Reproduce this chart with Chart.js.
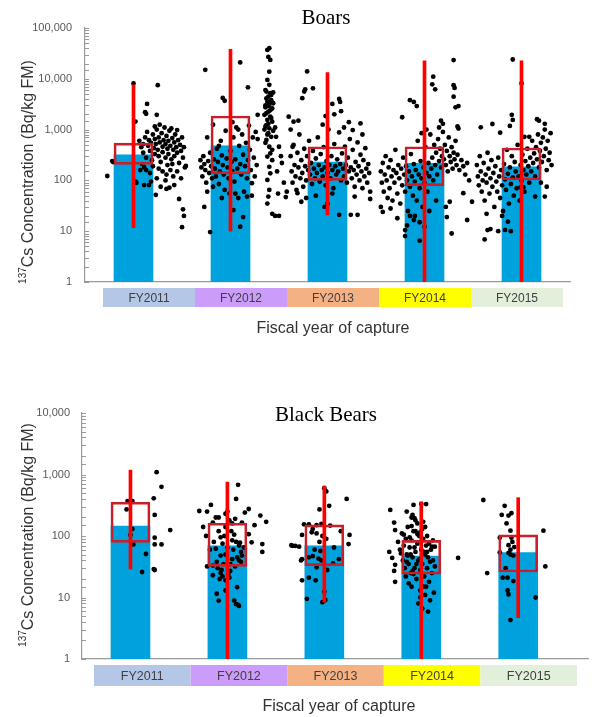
<!DOCTYPE html>
<html>
<head>
<meta charset="utf-8">
<script src="https://cdn.jsdelivr.net/npm/chart.js@4/dist/chart.umd.min.js"></script>
<style>
  body { margin: 0; background: #fff; }
  canvas { position: absolute; left: 0; }
</style>
</head>
<body>
<canvas id="boarChart" width="592" height="345" style="top:0"></canvas>
<canvas id="bearChart" width="592" height="345" style="top:372px"></canvas>
<script>
// Categories
const years = ['FY2011', 'FY2012', 'FY2013', 'FY2014', 'FY2015'];
const yearColors = ['#b4c7e7', '#cc9cfa', '#f4b183', '#ffff00', '#e2efda'];

// Boars: bar value, box (Q1..Q3), whisker (min..max)
const boarBars = [320, 480, 230, 217, 186];
const boarQ1 = [207, 134, 100, 79, 102];
const boarQ3 = [540, 1850, 460, 460, 435];
const boarMin = [11.7, 10, 21, 1, 1];
const boarMax = [7600, 38000, 13200, 22700, 22700];

// Black bears
const bearBars = [145, 69, 69, 47, 54];
const bearQ1 = [79, 32, 33, 24, 26];
const bearQ3 = [355, 161, 152, 85, 104];
const bearMin = [29, 1, 8.4, 1, 4.7];
const bearMax = [1180, 750, 650, 360, 420];

// Individual samples: [offset from year position, Bq/kg]
const boar2011 = [[-0.27,122],[0.0,8100],[0.25,7500],[0.14,3200],[0.12,2200],[0.13,2050],[0.02,1440],[0.24,1950],[-0.22,240],[0.02,94],[0.11,81],[0.16,81],[0.23,52],[0.34,68],[0.37,72],[0.42,81],[0.47,43],[0.51,27],[0.52,20],[0.50,12],[0.54,192],[-0.21,230],[0.03,89],
  [0.06,600],[0.08,450],[0.10,520],[0.10,350],[0.12,700],[0.13,280],[0.14,900],[0.15,480],[0.16,620],[0.17,380],[0.18,550],[0.19,250],[0.20,800],[0.21,430],[0.22,330],[0.22,650],[0.23,520],[0.24,1000],[0.25,400],[0.26,300],[0.26,700],[0.27,560],[0.28,230],[0.29,850],[0.30,460],[0.30,360],[0.31,620],[0.32,1100],[0.33,520],[0.33,280],[0.34,750],[0.35,420],[0.36,600],[0.36,330],[0.37,950],[0.38,480],[0.39,260],[0.40,680],[0.41,400],[0.42,560],[0.42,300],[0.43,800],[0.44,450],[0.45,350],[0.46,620],[0.47,220],[0.48,500],[0.49,380],[0.50,700],[0.51,280],[0.52,450],[0.53,180],[0.13,160],[0.17,140],[0.20,190],[0.26,170],[0.30,150],[0.34,130],[0.38,160],[0.41,120],[0.45,150],[0.49,110],[0.09,210],[0.11,180],[0.18,95],[0.24,110],[0.28,75],[0.33,100],[0.35,200],[0.40,210],[0.07,160],[0.27,1250],[0.39,1050],[0.45,980],[0.22,1150]];
const boar2012 = [[-0.26,15000],[0.10,21000],[0.18,6800],[-0.08,4200],[-0.06,3700],[0.28,1950],[0.02,1400],[-0.27,30],[-0.21,9.6],[0.10,12.3],[0.13,19],[0.03,26],[0.50,20],[0.46,20],[0.57,47],
  [-0.31,250],[-0.30,180],[-0.29,120],[-0.28,300],[-0.27,210],[-0.26,160],[-0.25,90],[-0.24,60],[-0.23,240],[-0.22,140],[-0.21,350],[-0.20,190],[-0.19,110],[-0.18,75],[-0.17,260],[-0.16,170],[-0.15,120],[-0.14,420],[-0.13,230],[-0.12,85],[-0.11,150],[-0.10,600],[-0.09,310],[-0.08,200],[-0.07,130],[-0.06,65],[-0.05,950],[-0.04,270],[-0.03,180],[-0.02,110],[-0.01,55],[0.00,380],[0.01,230],[0.02,150],[0.03,700],[0.04,95],[0.05,260],[0.06,1100],[0.07,170],[0.08,45],[0.09,480],[0.10,210],[0.11,130],[0.12,800],[0.13,320],[0.14,60],[0.15,190],[0.16,550],[0.17,110],[0.18,250],[0.19,1200],[0.20,400],[0.21,160],[0.22,50],[0.23,700],[0.24,280],[0.25,120],[0.26,900],[0.27,200],[0.28,650],[-0.18,1250],[-0.24,700],[0.08,1000],[-0.12,480],[0.05,55],[0.17,48],[0.22,88],[-0.09,45],
  [0.40,40000],[0.38,37000],[0.39,27000],[0.41,23500],[0.40,13800],[0.38,9500],[0.40,7600],[0.37,5600],[0.41,5200],[0.39,4450],[0.42,3800],[0.38,3550],[0.40,3050],[0.36,2750],[0.43,2600],[0.39,2250],[0.35,1950],[0.41,1800],[0.38,1550],[0.43,1430],[0.37,1230],[0.40,1060],[0.39,850],[0.42,720],[0.37,625],[0.40,460],[0.41,340],[0.38,295],[0.43,250],[0.40,185],[0.41,138],[0.38,102],[0.40,65],[0.39,48],[0.38,35],[0.43,22],
  [0.36,6000],[0.42,4800],[0.37,4100],[0.44,3300],[0.39,2900],[0.41,2400],[0.37,2100],[0.42,1700],[0.39,1300],[0.36,1150],[0.44,950],[0.38,800],[0.36,550],[0.43,400],[0.35,1000],[0.40,3500],[0.44,5400],[0.36,3000],
  [0.47,720],[0.50,460],[0.52,300],[0.48,150],[0.55,90],[0.53,220],[0.46,1100],[0.58,60],[0.49,55]];
const boar2013 = [[-0.21,14000],[-0.24,5600],[-0.23,6200],[-0.15,6500],[-0.26,4150],[0.05,3200],[0.12,4000],[0.13,3500],[0.07,2000],[0.14,2300],[-0.02,1850],[0.34,1320],[0.26,980],[-0.31,56],[-0.27,38],[-0.03,30],[0.0,35],[0.12,21],[0.24,21],[0.31,21],[0.44,43],[-0.35,1430],[-0.38,1000],[-0.40,1800],[-0.36,460],
  [-0.38,300],[-0.37,150],[-0.36,90],[-0.35,500],[-0.34,200],[-0.33,120],[-0.32,65],[-0.31,350],[-0.30,180],[-0.29,800],[-0.28,110],[-0.27,250],[-0.26,140],[-0.25,75],[-0.24,420],[-0.23,190],[-0.22,100],[-0.21,300],[-0.20,160],[-0.19,600],[-0.18,130],[-0.17,220],[-0.16,85],[-0.15,380],[-0.14,170],[-0.13,110],[-0.12,270],[-0.11,140],[-0.10,700],[-0.09,200],[-0.08,95],[-0.07,330],[-0.06,160],[-0.05,120],[-0.04,450],[-0.03,180],[-0.02,80],[-0.01,240],[0.00,140],[0.01,1000],[0.02,200],[0.03,110],[0.04,300],[0.05,160],[0.06,70],[0.07,520],[0.08,190],[0.09,130],[0.10,260],[0.11,150],[0.12,880],[0.13,210],[0.14,100],[0.15,340],[0.16,170],[0.17,120],[0.18,460],[0.19,200],[0.20,90],[0.21,280],[0.22,150],[0.23,650],[0.24,180],[0.25,110],[0.26,400],[0.27,160],[0.28,75],[0.29,230],[0.30,130],[0.31,560],[0.32,190],[0.33,100],[0.34,320],[0.35,150],[0.36,70],[0.37,250],[0.38,120],[0.39,430],[0.40,170],[0.41,90],[0.42,210],[0.43,140],[0.44,60],[0.05,55],[-0.12,50],[0.28,48],[-0.22,45],[0.17,1100],[-0.05,1250],[0.36,800],[-0.30,1500],[0.22,1400]];
const boar2014 = [[0.30,23400],[0.09,11000],[0.08,7800],[0.11,6200],[0.30,7500],[0.31,6600],[0.30,4450],[-0.15,3800],[-0.11,3500],[-0.08,2900],[-0.23,1750],[0.32,2750],[0.35,2900],[0.34,1150],[0.35,1050],[0.40,56],[0.49,38],[0.28,9],[-0.05,6.5],[0.0,12.3],[-0.2,10.5],[-0.2,8],[-0.11,16.6],[-0.15,20],[-0.45,30],[-0.43,24],[0.22,30],[0.23,19],[0.26,38],[0.44,16.6],[0.17,1500],[0.19,1300],[0.15,1100],
  [-0.45,150],[-0.44,90],[-0.43,220],[-0.42,60],[-0.41,130],[-0.40,300],[-0.39,100],[-0.38,45],[-0.37,180],[-0.36,70],[-0.35,250],[-0.34,120],[-0.33,40],[-0.32,160],[-0.31,90],[-0.30,400],[-0.29,140],[-0.28,55],[-0.27,200],[-0.26,110],[-0.25,35],[-0.24,170],[-0.23,80],[-0.22,280],[-0.21,130],[-0.20,60],[-0.19,190],[-0.18,100],[-0.17,25],[-0.16,150],[-0.15,75],[-0.14,330],[-0.13,120],[-0.12,50],[-0.11,210],[-0.10,95],[-0.09,160],[-0.08,40],[-0.07,600],[-0.06,130],[-0.05,70],[-0.04,240],[-0.03,110],[-0.02,30],[-0.01,180],[0.00,90],[0.01,450],[0.02,140],[0.03,60],[0.04,220],[0.05,120],[0.06,800],[0.07,170],[0.08,280],[0.09,100],[0.10,500],[0.11,200],[0.12,350],[0.13,130],[0.14,650],[0.15,240],[0.16,420],[0.17,180],[0.18,300],[0.19,900],[0.20,260],[0.21,500],[0.22,200],[0.23,380],[0.24,150],[0.25,700],[0.26,300],[0.27,230],[0.28,450],[0.29,170],[0.30,350],[0.31,260],[0.32,600],[0.33,200],[0.34,320],[0.36,160],[0.38,250],[0.40,190],[0.42,130],[0.44,220],[0.46,100],[-0.10,20],[-0.05,15],[0.05,25],[-0.28,18],[-0.35,28],[0.12,40],[-0.18,13],[0.02,1000],[-0.03,850]];
const boar2015 = [[-0.09,24000],[0.0,8100],[-0.1,1950],[-0.09,1550],[-0.12,1180],[0.16,1600],[0.18,1500],[0.24,1300],[-0.42,1110],[-0.3,1290],[-0.22,870],[0.08,720],[0.03,720],[-0.38,6.9],[-0.35,10.5],[-0.32,11],[-0.24,10],[-0.14,15.4],[-0.17,10.6],[-0.11,10],[0.14,48],[0.24,48],[0.02,73],[-0.01,73],
  [-0.46,200],[-0.45,120],[-0.44,80],[-0.43,300],[-0.42,150],[-0.41,60],[-0.40,100],[-0.39,220],[-0.38,40],[-0.37,130],[-0.36,90],[-0.35,350],[-0.34,170],[-0.33,55],[-0.32,110],[-0.31,250],[-0.30,75],[-0.29,140],[-0.28,30],[-0.27,190],[-0.26,95],[-0.25,60],[-0.24,280],[-0.23,120],[-0.22,45],[-0.21,160],[-0.20,80],[-0.19,25],[-0.18,210],[-0.17,105],[-0.16,65],[-0.15,400],[-0.14,135],[-0.13,35],[-0.12,180],[-0.11,85],[-0.10,300],[-0.09,115],[-0.08,50],[-0.07,230],[-0.06,150],[-0.05,70],[-0.04,500],[-0.03,120],[-0.02,40],[-0.01,200],[0.00,100],[0.01,320],[0.02,160],[0.03,60],[0.04,240],[0.05,130],[0.06,420],[0.07,190],[0.08,90],[0.09,280],[0.10,150],[0.11,600],[0.12,220],[0.13,340],[0.14,120],[0.15,450],[0.16,260],[0.17,800],[0.18,180],[0.19,380],[0.20,550],[0.21,230],[0.22,700],[0.23,300],[0.24,1000],[0.25,420],[0.26,160],[0.27,600],[0.28,250],[0.29,350],[0.30,850],[0.31,200],[0.20,90],[0.26,75],[-0.20,20],[-0.36,22]];

const bear2011 = [[0.27,1090],[0.32,630],[0.24,410],[-0.03,370],[0.02,370],[-0.04,270],[0.25,220],[0.02,130],[0.41,125],[0.0,104],[0.25,94],[0.25,73],[0.32,73],[0.03,73],[0.16,51],[0.25,28],[0.24,29],[0.12,26]];
const bear2012 = [[0.11,680],[0.09,400],[-0.29,255],[-0.21,250],[-0.17,320],[0.0,250],[-0.02,230],[0.22,275],[0.34,215],[0.40,170],[0.28,150],[0.22,107],[0.25,79],[0.36,74],[0.36,55],[-0.25,140],[-0.15,165],[-0.09,200],[-0.22,100],[-0.21,32],[-0.15,33],[-0.10,30],[-0.15,23],[-0.08,20],[-0.07,25],[-0.05,22],[0.02,21],[-0.02,19],[0.01,24],[0.03,27],[-0.11,11.5],[-0.09,8.9],[-0.02,13],[0.07,8.9],[0.09,7.8],[0.12,7.3],[0.11,7.6],[0.10,14.7],
  [-0.09,120],[-0.07,95],[-0.05,75],[-0.02,140],[0.02,180],[0.05,160],[0.07,105],[0.09,80],[0.12,70],[0.14,55],[0.10,45],[0.05,42],[-0.02,50],[-0.07,48],[-0.12,62],[-0.14,80],[0.05,85],[0.13,78],[0.17,65],[0.15,48],[0.12,40],[0.00,65],[-0.04,35],[0.03,35],[0.08,32],[-0.06,28],[0.06,60],[-0.11,38],[0.15,165],[0.18,240],[-0.18,60],[-0.03,100],[0.04,120],[-0.12,200],[0.08,190],[0.14,38]];
const bear2013 = [[0.0,600],[0.02,530],[0.23,400],[0.05,310],[-0.05,270],[-0.21,155],[-0.16,155],[-0.08,150],[-0.03,158],[0.06,148],[-0.23,104],[-0.13,115],[-0.08,110],[-0.02,100],[0.26,104],[-0.33,69],[-0.26,67],[0.25,74],[-0.23,42],[-0.24,40],[-0.16,45],[-0.12,47],[-0.06,43],[-0.03,40],[0.15,42],[-0.08,31],[0.03,28],[-0.23,19],[-0.16,21],[-0.09,19],[0.0,12.4],[-0.18,9.5],[-0.02,8.4],[0.01,9.1],[-0.1,60],[-0.04,57],[0.1,65],[-0.3,69],[0.09,36],[-0.12,130],[0.02,90],[-0.34,71],[0.17,120],[-0.05,80]];
const bear2014 = [[0.0,330],[0.05,330],[-0.08,320],[-0.15,250],[-0.09,220],[-0.10,200],[-0.07,195],[-0.32,265],[-0.28,165],[-0.27,125],[0.01,130],[-0.06,120],[-0.03,105],[-0.01,115],[-0.04,108],[0.11,67],[0.14,67],[0.38,44],[-0.33,55],[-0.30,44],[-0.27,34],[-0.28,27],[-0.27,18],[-0.03,8],[0.01,6.6],[0.07,5.9],[-0.13,17],[-0.10,15],[0.02,15],[-0.01,13],
  [-0.24,80],[-0.22,60],[-0.20,110],[-0.19,40],[-0.18,70],[-0.17,30],[-0.16,90],[-0.15,50],[-0.14,140],[-0.13,35],[-0.12,65],[-0.11,25],[-0.10,85],[-0.09,45],[-0.08,120],[-0.07,30],[-0.06,55],[-0.05,20],[-0.04,75],[-0.03,40],[-0.02,100],[-0.01,28],[0.00,60],[0.01,35],[0.02,90],[0.03,22],[0.04,50],[0.05,70],[0.06,30],[0.07,45],[0.08,18],[0.09,38],[0.10,60],[0.11,25],[0.12,40],[0.13,12],[0.14,32],[-0.11,50],[-0.07,65],[-0.02,42],[0.03,55],[-0.05,35],[0.00,25],[0.05,15],[-0.09,27],[-0.14,48],[-0.04,160],[-0.06,180],[0.02,170],[0.04,140],[-0.10,145],[0.06,100],[-0.12,95],[-0.18,105],[0.08,75],[-0.01,10],[0.04,11],[0.09,9],[-0.15,38],[-0.21,52],[0.12,85],[0.06,55],[-0.08,24],[-0.16,22]];
const bear2015 = [[-0.36,385],[-0.14,310],[-0.07,235],[-0.10,215],[-0.17,220],[-0.08,122],[0.26,122],[-0.19,94],[-0.07,94],[-0.10,71],[-0.06,80],[-0.08,60],[-0.10,53],[-0.05,48],[-0.08,50],[-0.19,54],[0.28,32],[-0.32,25],[-0.16,21],[-0.11,21],[-0.05,18.5],[-0.11,13],[-0.10,11.2],[0.18,10],[-0.08,4.3],[-0.12,160],[-0.04,66],[-0.13,30]];

const boarPoints = [boar2011, boar2012, boar2013, boar2014, boar2015];
const bearPoints = [bear2011, bear2012, bear2013, bear2014, bear2015];

const FONT = '"Liberation Sans", Arial, sans-serif';

// Draws titles, coloured year bands, axis titles and the inner minor ticks
const decorPlugin = {
    id: 'decor',
    afterDraw(chart, args, opts) {
        const ctx = chart.ctx;
        const ys = chart.scales.y;
        ctx.save();

        // minor ticks pointing into the plot
        ctx.strokeStyle = '#9a9a9a';
        ctx.lineWidth = 1;
        ctx.beginPath();
        ys.ticks.forEach(t => {
            const py = Math.round(ys.getPixelForValue(t.value)) + 0.5;
            ctx.moveTo(ys.right, py);
            ctx.lineTo(ys.right + 4, py);
        });
        ctx.stroke();

        // year bands under the axis
        const w = (opts.bandRight - opts.bandLeft) / years.length;
        ctx.textAlign = 'center';
        ctx.textBaseline = 'middle';
        ctx.font = opts.bandFont + ' ' + FONT;
        years.forEach((y, i) => {
            ctx.fillStyle = yearColors[i];
            ctx.fillRect(opts.bandLeft + i * w, opts.bandTop, w, opts.bandHeight);
            ctx.fillStyle = '#404040';
            ctx.fillText(y, opts.bandLeft + (i + 0.5) * w, opts.bandTop + opts.bandHeight / 2 + 1);
        });

        // chart title
        ctx.fillStyle = '#000';
        ctx.font = '21px "Liberation Serif", "Times New Roman", serif';
        ctx.fillText(opts.title, opts.titleX, opts.titleY);

        // x axis title
        ctx.fillStyle = '#333';
        ctx.font = '16px ' + FONT;
        ctx.fillText('Fiscal year of capture', opts.xTitleX, opts.xTitleY);

        // y axis title with superscript 137
        ctx.translate(opts.yTitleX, opts.yTitleY);
        ctx.rotate(-Math.PI / 2);
        ctx.textAlign = 'left';
        ctx.textBaseline = 'alphabetic';
        ctx.font = '10px ' + FONT;
        const supW = ctx.measureText('137').width;
        ctx.font = '16px ' + FONT;
        const main = 'Cs Concentration (Bq/kg FM)';
        const mainW = ctx.measureText(main).width;
        const start = -(supW + mainW) / 2;
        ctx.fillText(main, start + supW, 6);
        ctx.font = '10px ' + FONT;
        ctx.fillText('137', start, -1);
        ctx.restore();
    }
};

function buildChart(canvasId, bars, q1, q3, lo, hi, points, yMax, layout, decor) {
    const ctx = document.getElementById(canvasId).getContext('2d');
    const scatter = [];
    points.forEach((list, i) => list.forEach(p => scatter.push({ x: i + p[0], y: p[1] })));

    return new Chart(ctx, {
        type: 'bar',
        data: {
            datasets: [
                {
                    label: 'Whisker',
                    data: years.map((_, i) => ({ x: i, y: [lo[i], hi[i]] })),
                    backgroundColor: '#ff0000',
                    barThickness: 3,
                    grouped: false,
                    borderSkipped: false,
                    order: 0
                },
                {
                    label: 'Box',
                    data: years.map((_, i) => ({ x: i, y: [q1[i], q3[i]] })),
                    backgroundColor: 'rgba(0,0,0,0)',
                    borderColor: '#c8202a',
                    borderWidth: 2,
                    borderSkipped: false,
                    barThickness: 39,
                    grouped: false,
                    order: 1
                },
                {
                    label: 'Samples',
                    type: 'scatter',
                    data: scatter,
                    backgroundColor: '#000',
                    borderWidth: 0,
                    pointRadius: 2.4,
                    order: 2
                },
                {
                    label: 'Mean',
                    data: years.map((_, i) => ({ x: i, y: bars[i] })),
                    backgroundColor: '#00a2de',
                    barThickness: 39,
                    grouped: false,
                    order: 3
                }
            ]
        },
        options: {
            responsive: false,
            animation: false,
            layout: { padding: layout.padding },
            plugins: {
                legend: { display: false },
                tooltip: { enabled: false },
                decor: decor
            },
            scales: {
                x: {
                    type: 'linear',
                    min: -0.5,
                    max: layout.xMax,
                    offset: false,
                    grid: { display: false, drawTicks: false },
                    ticks: { display: false },
                    border: { display: true, color: '#9a9a9a', width: 1.2 },
                    afterFit: s => { s.height = layout.xHeight; }
                },
                y: {
                    type: 'logarithmic',
                    min: 1,
                    max: yMax,
                    grid: { display: false, drawTicks: false },
                    border: { display: true, color: '#9a9a9a', width: 1.2 },
                    ticks: {
                        autoSkip: false,
                        padding: layout.tickPad,
                        color: '#595959',
                        font: { family: FONT, size: 11 },
                        callback: v => {
                            const e = Math.log10(v);
                            return Math.abs(e - Math.round(e)) < 1e-9 ? Number(v).toLocaleString('en-US') : '';
                        }
                    },
                    afterFit: s => { s.width = layout.yWidth; }
                }
            }
        },
        plugins: [decorPlugin]
    });
}

buildChart('boarChart', boarBars, boarQ1, boarQ3, boarMin, boarMax, boarPoints, 100000,
    { padding: { top: 28, right: 22, left: 0, bottom: 0 }, xMax: 4.5, xHeight: 63, yWidth: 85, tickPad: 13 },
    { title: 'Boars', titleX: 326, titleY: 18, bandLeft: 103, bandRight: 563, bandTop: 288, bandHeight: 19,
      bandFont: '12px', xTitleX: 333, xTitleY: 329, yTitleX: 27, yTitleY: 172 });

buildChart('bearChart', bearBars, bearQ1, bearQ3, bearMin, bearMax, bearPoints, 10000,
    { padding: { top: 41, right: 2, left: 0, bottom: 0 }, xMax: 4.72, xHeight: 58, yWidth: 82, tickPad: 12 },
    { title: 'Black Bears', titleX: 326, titleY: 43, bandLeft: 94, bandRight: 577, bandTop: 293, bandHeight: 21,
      bandFont: '12.5px', xTitleX: 339, xTitleY: 335, yTitleX: 27, yTitleY: 163 });
</script>
</body>
</html>
